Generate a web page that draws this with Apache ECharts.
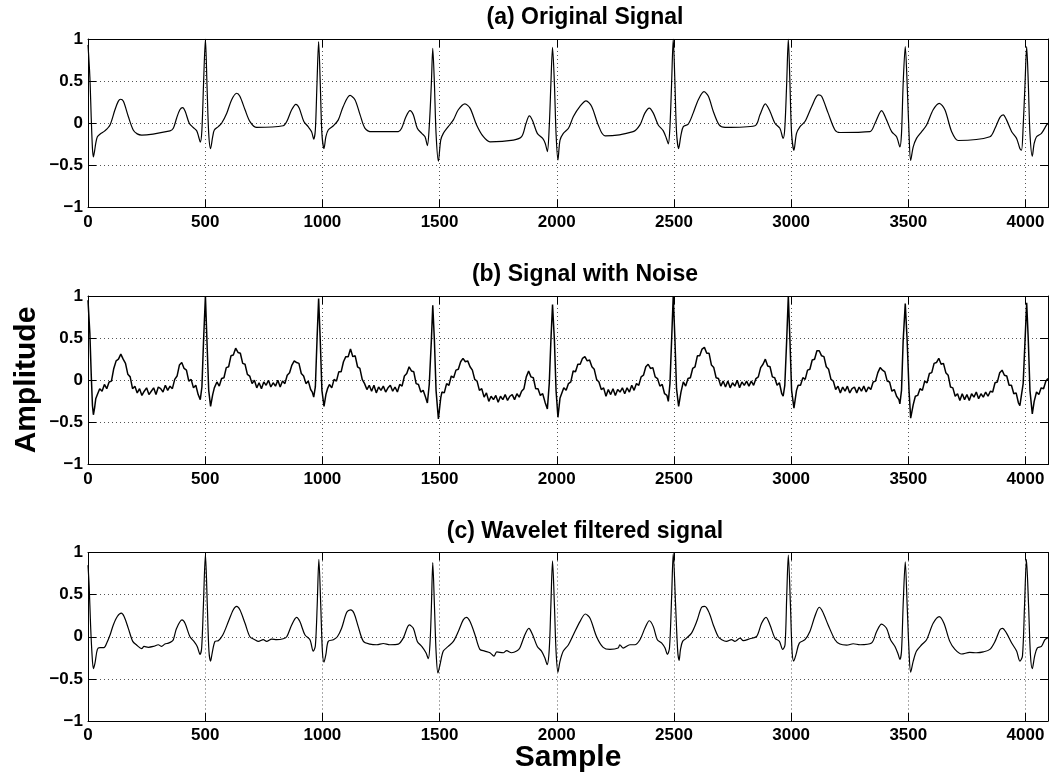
<!DOCTYPE html>
<html><head><meta charset="utf-8">
<script src="https://cdn.jsdelivr.net/npm/echarts@6/dist/echarts.min.js"></script>
<style>html,body{margin:0;padding:0;background:#fff}#c{width:1050px;height:776px}</style>
</head><body><div id="c"></div>
<script>
const panelTitles = ['(a) Original Signal', '(b) Signal with Noise', '(c) Wavelet filtered signal'];
const xAxisName = 'Sample';
const yAxisName = 'Amplitude';
const xMin = 0, xMax = 4096, xStep = 500;
const yMin = -1, yMax = 1, yStep = 0.5;

const originalSignal = [[0,0.93],[8,0.55],[14,0.05],[19,-0.30],[23,-0.40],[28,-0.33],[33,-0.24],[40,-0.16],[51,-0.13],[72,-0.09],[94,-0.02],[115,0.16],[129,0.26],[139,0.285],[151,0.26],[172,0.08],[193,-0.08],[210,-0.126],[229,-0.14],[350,-0.09],[364,-0.06],[378,0.06],[392,0.16],[404,0.186],[415,0.14],[432,0.0],[449,-0.05],[464,-0.09],[472,-0.16],[479,-0.225],[486,-0.08],[493,0.47],[501,1.0],[508,0.43],[515,-0.12],[523,-0.30],[532,-0.16],[539,-0.08],[556,-0.04],[570,0],[592,0.12],[613,0.28],[634,0.356],[648,0.32],[670,0.16],[691,0.02],[720,-0.05],[833,-0.03],[848,0.02],[869,0.16],[887,0.225],[901,0.18],[921,0.02],[939,-0.04],[954,-0.10],[963,-0.19],[970,-0.08],[977,0.47],[984,0.97],[991,0.47],[998,-0.12],[1007,-0.30],[1015,-0.16],[1025,-0.08],[1047,-0.03],[1068,0.04],[1089,0.2],[1118,0.33],[1139,0.28],[1161,0.1],[1182,-0.06],[1211,-0.10],[1324,-0.10],[1338,-0.06],[1357,0.08],[1374,0.15],[1388,0.10],[1405,-0.06],[1424,-0.12],[1438,-0.16],[1448,-0.265],[1456,-0.04],[1465,0.47],[1471,0.89],[1478,0.47],[1485,-0.12],[1495,-0.45],[1505,-0.2],[1516,-0.12],[1537,-0.04],[1559,0.04],[1580,0.16],[1608,0.23],[1630,0.18],[1658,-0.02],[1687,-0.16],[1715,-0.22],[1815,-0.20],[1850,-0.16],[1869,0.0],[1883,0.087],[1897,0.03],[1917,-0.12],[1940,-0.18],[1951,-0.24],[1960,-0.336],[1968,-0.04],[1975,0.47],[1982,0.90],[1990,0.47],[1997,-0.12],[2005,-0.435],[2014,-0.2],[2028,-0.12],[2050,-0.06],[2071,0.08],[2099,0.2],[2125,0.265],[2149,0.2],[2177,-0.02],[2206,-0.15],[2326,-0.10],[2355,-0.02],[2376,0.12],[2395,0.18],[2412,0.12],[2433,-0.02],[2454,-0.087],[2468,-0.18],[2476,-0.245],[2483,-0.04],[2490,0.47],[2497,1.0],[2504,0.5],[2511,-0.1],[2520,-0.30],[2530,-0.14],[2540,-0.04],[2561,-0.01],[2582,0.12],[2604,0.28],[2628,0.375],[2647,0.32],[2668,0.14],[2693,-0.02],[2718,-0.05],[2846,-0.03],[2867,0.1],[2890,0.23],[2910,0.14],[2931,0.0],[2952,-0.06],[2966,-0.18],[2973,-0.06],[2981,0.47],[2988,1.0],[2995,0.47],[3002,-0.12],[3012,-0.32],[3023,-0.12],[3038,-0.04],[3059,0.02],[3088,0.2],[3116,0.336],[3130,0.32],[3158,0.12],[3187,-0.08],[3208,-0.11],[3336,-0.10],[3358,0.0],[3386,0.15],[3407,0.04],[3429,-0.10],[3450,-0.16],[3464,-0.28],[3471,-0.12],[3478,0.47],[3487,0.91],[3495,0.47],[3503,-0.12],[3510,-0.44],[3521,-0.28],[3535,-0.18],[3557,-0.10],[3578,-0.02],[3606,0.16],[3632,0.237],[3656,0.16],[3685,-0.10],[3713,-0.205],[3848,-0.16],[3870,-0.06],[3891,0.07],[3905,0.1],[3919,0.04],[3941,-0.10],[3962,-0.18],[3976,-0.3],[3983,-0.32],[3990,-0.04],[3998,0.47],[4005,0.91],[4012,0.47],[4019,-0.12],[4029,-0.39],[4037,-0.24],[4047,-0.16],[4068,-0.12],[4090,-0.02],[4096,0.0]];

const noisySignal = [[0,0.95],[8,0.55],[14,0.05],[19,-0.30],[23,-0.41],[28,-0.33],[33,-0.22],[40,-0.17],
[50,-0.10],[60,-0.13],[70,-0.05],[80,-0.10],[90,-0.02],[100,-0.01],[110,0.14],[120,0.23],[130,0.25],[140,0.31],[150,0.25],[160,0.20],[170,0.07],[180,0.04],[190,-0.10],[200,-0.07],[210,-0.15],[220,-0.10],[230,-0.18],[240,-0.13],[250,-0.09],[260,-0.17],[270,-0.13],[280,-0.09],[290,-0.17],[300,-0.08],[310,-0.10],[320,-0.14],[330,-0.06],[340,-0.12],[350,-0.07],[360,-0.10],[370,0.01],[380,0.05],[390,0.18],[400,0.21],[410,0.14],[420,0.12],[430,-0.01],[440,0.01],[450,-0.09],[460,-0.06],[470,-0.17],
[479,-0.23],[486,-0.08],[493,0.47],[501,1.0],[508,0.43],[515,-0.12],[523,-0.31],[532,-0.17],[539,-0.09],
[550,-0.02],[560,-0.07],[570,0.02],[580,0.03],[590,0.15],[600,0.16],[610,0.29],[620,0.30],[630,0.38],[640,0.33],[650,0.32],[660,0.20],[670,0.19],[680,0.07],[690,0.05],[700,-0.04],[710,0.0],[720,-0.09],[730,-0.03],[740,-0.10],[750,-0.02],[760,-0.06],[770,0.0],[780,-0.08],[790,-0.03],[800,-0.07],[810,0.0],[820,-0.08],[830,-0.01],[840,-0.04],[850,0.06],[860,0.09],[870,0.18],[880,0.23],[890,0.21],[900,0.20],[910,0.08],[920,0.05],[930,-0.04],[940,-0.01],[950,-0.11],
[957,-0.14],[963,-0.20],[970,-0.08],[977,0.47],[984,0.97],[991,0.47],[998,-0.12],[1007,-0.31],[1015,-0.17],[1022,-0.10],
[1030,-0.05],[1040,-0.09],[1050,0.01],[1060,-0.01],[1070,0.10],[1080,0.10],[1090,0.22],[1100,0.28],[1110,0.28],[1120,0.37],[1130,0.28],[1140,0.29],[1150,0.16],[1160,0.14],[1170,0.01],[1180,-0.04],[1190,-0.11],[1200,-0.06],[1210,-0.13],[1220,-0.06],[1230,-0.15],[1240,-0.08],[1250,-0.12],[1260,-0.07],[1270,-0.14],[1280,-0.09],[1290,-0.06],[1300,-0.13],[1310,-0.08],[1320,-0.14],[1330,-0.05],[1340,-0.07],[1350,0.05],[1360,0.08],[1370,0.16],[1380,0.11],[1390,0.10],[1400,-0.04],[1410,-0.05],[1420,-0.14],[1430,-0.12],[1440,-0.20],
[1448,-0.27],[1456,-0.05],[1465,0.47],[1471,0.89],[1478,0.47],[1485,-0.12],[1495,-0.46],[1505,-0.21],
[1510,-0.14],[1520,-0.15],[1530,-0.04],[1540,-0.06],[1550,0.05],[1560,0.03],[1570,0.12],[1580,0.13],[1590,0.22],[1600,0.26],[1610,0.22],[1620,0.23],[1630,0.16],[1640,0.12],[1650,0.01],[1660,-0.01],[1670,-0.12],[1680,-0.10],[1690,-0.20],[1700,-0.15],[1710,-0.25],[1720,-0.19],[1730,-0.23],[1740,-0.18],[1750,-0.26],[1760,-0.19],[1770,-0.23],[1780,-0.17],[1790,-0.24],[1800,-0.19],[1810,-0.17],[1820,-0.23],[1830,-0.16],[1840,-0.20],[1850,-0.13],[1860,-0.10],[1870,0.04],[1880,0.11],[1890,0.04],[1900,0.03],[1910,-0.10],[1920,-0.10],[1930,-0.18],[1940,-0.16],[1950,-0.26],
[1960,-0.34],[1968,-0.04],[1975,0.47],[1982,0.90],[1990,0.47],[1997,-0.12],[2005,-0.44],[2014,-0.21],
[2020,-0.19],[2030,-0.09],[2040,-0.12],[2050,-0.04],[2060,-0.02],[2070,0.11],[2080,0.10],[2090,0.19],[2100,0.19],[2110,0.26],[2120,0.28],[2130,0.23],[2140,0.24],[2150,0.16],[2160,0.13],[2170,0.01],[2180,-0.02],[2190,-0.11],[2200,-0.09],[2210,-0.19],[2220,-0.11],[2230,-0.17],[2240,-0.10],[2250,-0.18],[2260,-0.11],[2270,-0.14],[2280,-0.09],[2290,-0.16],[2300,-0.09],[2310,-0.14],[2320,-0.06],[2330,-0.12],[2340,-0.04],[2350,-0.06],[2360,0.04],[2370,0.06],[2380,0.16],[2390,0.19],[2400,0.14],[2410,0.15],[2420,0.04],[2430,0.02],[2440,-0.07],[2450,-0.05],[2460,-0.16],[2470,-0.18],
[2476,-0.25],[2483,-0.04],[2490,0.47],[2497,1.0],[2504,0.5],[2511,-0.1],[2520,-0.31],[2530,-0.14],
[2540,-0.02],[2550,-0.07],[2560,0.02],[2570,0.03],[2580,0.14],[2590,0.16],[2600,0.29],[2610,0.29],[2620,0.37],[2630,0.39],[2640,0.32],[2650,0.32],[2660,0.18],[2670,0.15],[2680,0.03],[2690,0.02],[2700,-0.07],[2710,-0.01],[2720,-0.08],[2730,-0.01],[2740,-0.09],[2750,-0.03],[2760,-0.07],[2770,0.0],[2780,-0.09],[2790,-0.02],[2800,-0.06],[2810,-0.01],[2820,-0.07],[2830,-0.01],[2840,-0.06],[2850,0.02],[2860,0.04],[2870,0.15],[2880,0.19],[2890,0.25],[2900,0.17],[2910,0.16],[2920,0.04],[2930,0.03],[2940,-0.06],[2950,-0.03],[2960,-0.16],
[2966,-0.19],[2973,-0.06],[2981,0.47],[2988,1.0],[2995,0.47],[3002,-0.12],[3012,-0.33],[3023,-0.12],
[3030,-0.06],[3040,-0.06],[3050,0.03],[3060,0.01],[3070,0.12],[3080,0.13],[3090,0.24],[3100,0.25],[3110,0.35],[3120,0.35],[3130,0.29],[3140,0.28],[3150,0.16],[3160,0.13],[3170,0.01],[3180,-0.01],[3190,-0.11],[3200,-0.07],[3210,-0.15],[3220,-0.08],[3230,-0.13],[3240,-0.07],[3250,-0.15],[3260,-0.10],[3270,-0.08],[3280,-0.15],[3290,-0.08],[3300,-0.13],[3310,-0.07],[3320,-0.14],[3330,-0.08],[3340,-0.11],[3350,-0.02],[3360,-0.01],[3370,0.09],[3380,0.15],[3390,0.12],[3400,0.10],[3410,-0.01],[3420,-0.02],[3430,-0.13],[3440,-0.11],[3450,-0.19],[3460,-0.23],
[3464,-0.28],[3471,-0.12],[3478,0.47],[3487,0.91],[3495,0.47],[3503,-0.12],[3510,-0.45],[3521,-0.29],
[3530,-0.19],[3540,-0.18],[3550,-0.10],[3560,-0.12],[3570,-0.01],[3580,-0.03],[3590,0.08],[3600,0.09],[3610,0.20],[3620,0.21],[3630,0.26],[3640,0.19],[3650,0.20],[3660,0.09],[3670,0.06],[3680,-0.08],[3690,-0.09],[3700,-0.19],[3710,-0.16],[3720,-0.24],[3730,-0.16],[3740,-0.23],[3750,-0.17],[3760,-0.24],[3770,-0.16],[3780,-0.20],[3790,-0.14],[3800,-0.22],[3810,-0.16],[3820,-0.20],[3830,-0.14],[3840,-0.19],[3850,-0.13],[3860,-0.14],[3870,-0.03],[3880,-0.02],[3890,0.09],[3900,0.12],[3910,0.06],[3920,0.05],[3930,-0.06],[3940,-0.06],[3950,-0.16],[3960,-0.15],[3970,-0.27],
[3976,-0.30],[3983,-0.32],[3990,-0.04],[3998,0.47],[4005,0.92],[4012,0.47],[4019,-0.12],[4029,-0.40],[4037,-0.25],
[4047,-0.14],[4057,-0.17],[4067,-0.09],[4077,-0.10],[4087,-0.01],[4096,0.02]];

const filteredSignal = [[0,0.85],[5,0.6],[11,0.14],[17,-0.2],[23,-0.38],[30,-0.31],[40,-0.15],[51,-0.13],[68,-0.13],[80,-0.075],[94,0.02],[108,0.14],[125,0.24],[142,0.28],[154,0.24],[172,0.10],[191,-0.055],[208,-0.10],[229,-0.14],[239,-0.115],[257,-0.125],[279,-0.115],[300,-0.095],[314,-0.115],[328,-0.087],[343,-0.075],[357,-0.055],[364,-0.035],[378,0.10],[401,0.20],[414,0.16],[435,0.0],[452,-0.055],[466,-0.115],[478,-0.21],[485,-0.13],[492,0.34],[501,0.98],[509,0.38],[516,-0.17],[523,-0.29],[530,-0.19],[542,-0.055],[556,-0.047],[575,0.02],[599,0.18],[620,0.32],[634,0.36],[648,0.32],[670,0.16],[691,0.0],[712,-0.035],[727,-0.055],[748,-0.035],[762,-0.055],[784,-0.028],[805,-0.035],[833,-0.024],[848,0.0],[869,0.14],[890,0.23],[904,0.18],[926,0.02],[947,-0.035],[961,-0.17],[970,-0.11],[978,0.38],[985,0.92],[993,0.38],[1000,-0.17],[1007,-0.30],[1015,-0.21],[1025,-0.055],[1047,-0.035],[1064,0.0],[1082,0.10],[1104,0.29],[1121,0.32],[1135,0.28],[1153,0.12],[1175,-0.055],[1203,-0.087],[1232,-0.095],[1260,-0.08],[1288,-0.095],[1324,-0.087],[1345,-0.016],[1371,0.14],[1388,0.10],[1405,-0.055],[1424,-0.115],[1442,-0.19],[1452,-0.26],[1459,-0.095],[1465,0.34],[1471,0.88],[1478,0.38],[1485,-0.17],[1493,-0.43],[1502,-0.33],[1516,-0.17],[1537,-0.115],[1559,-0.055],[1580,0.063],[1601,0.20],[1615,0.23],[1630,0.18],[1651,0.024],[1672,-0.15],[1693,-0.17],[1715,-0.19],[1732,-0.23],[1744,-0.18],[1772,-0.19],[1786,-0.165],[1807,-0.19],[1829,-0.17],[1843,-0.13],[1864,0.024],[1881,0.10],[1897,0.024],[1917,-0.115],[1935,-0.17],[1949,-0.25],[1959,-0.33],[1968,-0.15],[1975,0.38],[1982,0.90],[1990,0.38],[1997,-0.17],[2005,-0.42],[2014,-0.29],[2028,-0.17],[2050,-0.095],[2071,0.024],[2099,0.18],[2122,0.27],[2142,0.22],[2170,0.0],[2198,-0.126],[2227,-0.15],[2262,-0.134],[2269,-0.095],[2283,-0.134],[2312,-0.095],[2333,-0.095],[2355,-0.035],[2376,0.10],[2395,0.19],[2412,0.12],[2429,-0.035],[2448,-0.075],[2462,-0.134],[2472,-0.21],[2481,-0.134],[2490,0.46],[2497,0.99],[2507,0.38],[2516,-0.17],[2522,-0.28],[2528,-0.15],[2537,-0.055],[2554,-0.016],[2575,0.043],[2597,0.18],[2618,0.35],[2632,0.36],[2651,0.28],[2668,0.14],[2689,0.0],[2704,-0.035],[2724,-0.055],[2746,-0.035],[2760,-0.055],[2782,-0.016],[2796,-0.047],[2824,-0.024],[2853,0.004],[2874,0.16],[2893,0.23],[2910,0.14],[2931,-0.016],[2950,-0.055],[2964,-0.15],[2974,-0.095],[2981,0.46],[2988,0.97],[2997,0.38],[3004,-0.17],[3011,-0.29],[3021,-0.21],[3035,-0.075],[3059,-0.035],[3080,0.063],[3101,0.24],[3120,0.35],[3134,0.30],[3158,0.14],[3187,-0.035],[3208,-0.087],[3237,-0.10],[3265,-0.083],[3294,-0.095],[3343,-0.075],[3365,0.063],[3386,0.15],[3407,0.10],[3424,-0.035],[3443,-0.115],[3457,-0.21],[3464,-0.27],[3471,-0.17],[3478,0.38],[3487,0.89],[3495,0.38],[3503,-0.17],[3510,-0.42],[3521,-0.29],[3535,-0.17],[3557,-0.095],[3578,-0.035],[3606,0.16],[3632,0.24],[3652,0.16],[3677,-0.055],[3699,-0.15],[3727,-0.205],[3762,-0.185],[3791,-0.19],[3820,-0.18],[3848,-0.15],[3870,-0.055],[3891,0.083],[3902,0.10],[3919,0.043],[3941,-0.075],[3962,-0.17],[3976,-0.29],[3987,-0.23],[3996,0.38],[4004,0.92],[4013,0.38],[4021,-0.21],[4029,-0.38],[4039,-0.23],[4050,-0.134],[4068,-0.115],[4083,-0.035],[4096,-0.01]];

const seriesData = [originalSignal, noisySignal, filteredSignal];

const FONT = '"Liberation Sans", Arial, Helvetica, sans-serif';
const plotTops = [39, 296, 552.5];
const plotH = 168.5;
const titleY = [18, 275, 532];
const fmtX = v => (v % xStep === 0 ? String(v) : '');
const fmtY = v => {
  if (Math.abs(v) < 1e-9) return '0';
  const s = String(Math.round(v * 10) / 10);
  return s.replace('-', '\u2212');
};
const axisLineStyle = { color: '#000', width: 1 };
const gridLine = { show: true, lineStyle: { color: '#555', width: 1, type: [1, 3] } };
const labelStyle = { fontSize: 17, fontWeight: 'bold', color: '#000', fontFamily: FONT };

const grids = [], xAxes = [], yAxes = [], series = [];
for (let i = 0; i < 3; i++) {
  grids.push({ left: 88, right: 2, top: plotTops[i], height: plotH, show: false });
}
for (let i = 0; i < 3; i++) {
  xAxes.push({ type: 'value', gridIndex: i, min: xMin, max: xMax, interval: xStep, position: 'bottom',
    axisLine: { show: true, onZero: false, lineStyle: axisLineStyle },
    axisTick: { show: true, inside: true, length: 8, lineStyle: axisLineStyle },
    axisLabel: Object.assign({ margin: 6, formatter: fmtX, showMaxLabel: false }, labelStyle),
    splitLine: gridLine });
}
for (let i = 0; i < 3; i++) {
  xAxes.push({ type: 'value', gridIndex: i, min: xMin, max: xMax, interval: xStep, position: 'top',
    axisLine: { show: true, onZero: false, lineStyle: axisLineStyle },
    axisTick: { show: true, inside: true, length: 8, lineStyle: axisLineStyle },
    axisLabel: { show: false }, splitLine: { show: false } });
}
for (let i = 0; i < 3; i++) {
  yAxes.push({ type: 'value', gridIndex: i, min: yMin, max: yMax, interval: yStep, position: 'left',
    axisLine: { show: true, onZero: false, lineStyle: axisLineStyle },
    axisTick: { show: true, inside: true, length: 8, lineStyle: axisLineStyle },
    axisLabel: Object.assign({ margin: 5, formatter: fmtY }, labelStyle),
    splitLine: gridLine });
}
for (let i = 0; i < 3; i++) {
  yAxes.push({ type: 'value', gridIndex: i, min: yMin, max: yMax, interval: yStep, position: 'right',
    axisLine: { show: true, onZero: false, lineStyle: axisLineStyle },
    axisTick: { show: true, inside: true, length: 8, lineStyle: axisLineStyle },
    axisLabel: { show: false }, splitLine: { show: false } });
}
for (let i = 0; i < 3; i++) {
  series.push({ type: 'line', xAxisIndex: i, yAxisIndex: i, data: seriesData[i],
    showSymbol: false, symbol: 'none', smooth: i === 1 ? false : 0.3,
    lineStyle: { color: '#000', width: i === 1 ? 1.5 : 1.2 }, silent: true, animation: false });
}

const graphic = [];
for (let i = 0; i < 3; i++) {
  graphic.push({ type: 'text', x: 585, y: titleY[i], silent: true,
    style: { text: panelTitles[i], font: 'bold 23px ' + FONT, fill: '#000',
      textAlign: 'center', textVerticalAlign: 'middle', align: 'center', verticalAlign: 'middle' } });
}
graphic.push({ type: 'text', x: 568, y: 758, silent: true,
  style: { text: xAxisName, font: 'bold 30px ' + FONT, fill: '#000',
    textAlign: 'center', textVerticalAlign: 'middle', align: 'center', verticalAlign: 'middle' } });
graphic.push({ type: 'text', x: 27, y: 380, rotation: Math.PI / 2, silent: true,
  style: { text: yAxisName, font: 'bold 30px ' + FONT, fill: '#000',
    textAlign: 'center', textVerticalAlign: 'middle', align: 'center', verticalAlign: 'middle' } });

const chart = echarts.init(document.getElementById('c'), null, { renderer: 'canvas' });
chart.setOption({
  backgroundColor: '#fff',
  animation: false,
  grid: grids, xAxis: xAxes, yAxis: yAxes, series: series, graphic: graphic
});
</script></body></html>
